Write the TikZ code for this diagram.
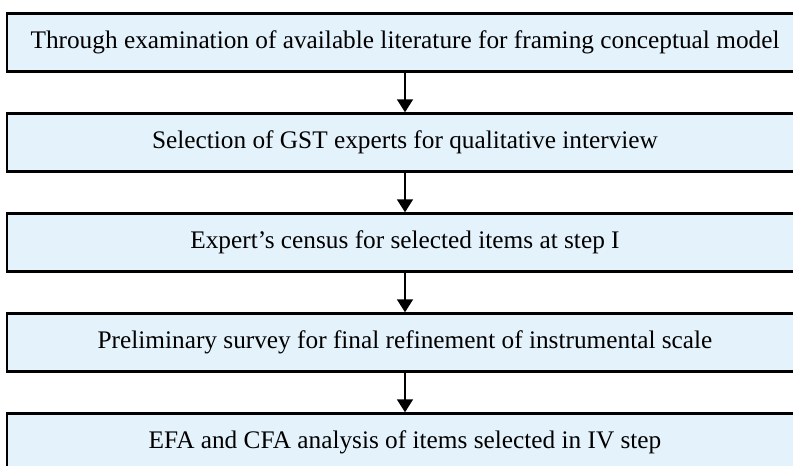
\documentclass[tikz,border=0pt]{standalone}
\usepackage{fontspec}
\setmainfont{Liberation Serif}
\usepackage{xcolor}
\usepackage{tikz}
\usetikzlibrary{arrows.meta,positioning}
\definecolor{stagefill}{RGB}{228,242,251}

\begin{document}
\begin{tikzpicture}[
  x=0.5pt, y=0.5pt,
  stage/.style={draw, line width=1.2pt, fill=stagefill, minimum width=398pt, minimum height=29pt, inner sep=0pt, font=\fontsize{12.65}{14}\selectfont, align=center},
  arrow/.style={-{Triangle[width=8pt,length=6.5pt]}, line width=0.8pt}
]
\useasboundingbox (0,0) rectangle (793,466);

\node[stage] (s1) at (405,423.5) {Through examination of available literature for framing conceptual model};
\node[stage, below=19.8pt of s1] (s2) {Selection of GST experts for qualitative interview};
\node[stage, below=19.8pt of s2] (s3) {Expert’s census for selected items at step I};
\node[stage, below=19.8pt of s3] (s4) {Preliminary survey for final refinement of instrumental scale};
\node[stage, below=19.8pt of s4] (s5) {EFA and CFA analysis of items selected in IV step};

\draw[arrow] (s1) -- (s2);
\draw[arrow] (s2) -- (s3);
\draw[arrow] (s3) -- (s4);
\draw[arrow] (s4) -- (s5);
\end{tikzpicture}
\end{document}
